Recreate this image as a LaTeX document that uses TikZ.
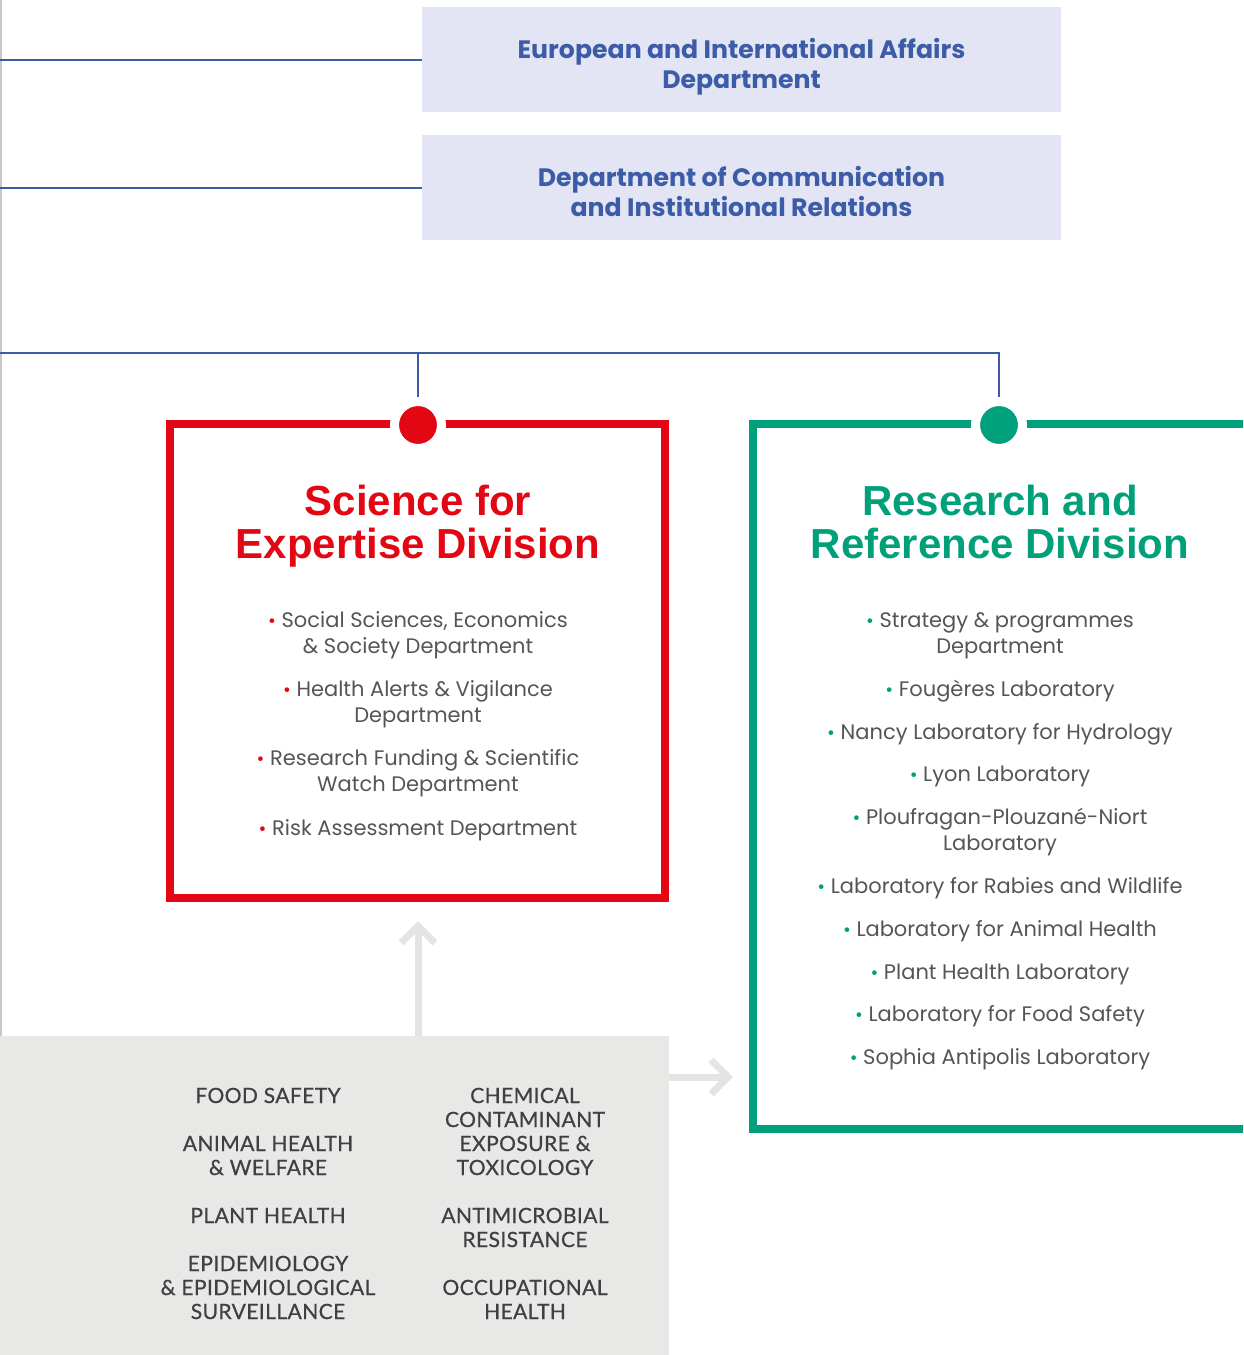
\documentclass[tikz,border=0pt]{standalone}
\usepackage{fontspec}
\setmainfont{Poppins}
\newfontfamily\headfont{Liberation Sans}
\newfontfamily\capsfont{Lato}[LetterSpace=2.0, FakeBold=0.6]
\usetikzlibrary{arrows.meta}
\definecolor{orgblue}{HTML}{3D5CA8}
\definecolor{deptfill}{HTML}{E3E5F4}
\definecolor{sfered}{HTML}{E30613}
\definecolor{rrdgreen}{HTML}{00A07A}
\definecolor{focusgray}{HTML}{E8E8E6}
\definecolor{arrowgray}{HTML}{E4E4E3}
\definecolor{itemgray}{HTML}{555555}
\definecolor{capsgray}{HTML}{404042}
\definecolor{edgegray}{HTML}{C8C8C8}
\newcommand{\bul}[1]{{\color{#1}\fontsize{9.5}{9.5}\selectfont\textbullet}~}
\tikzset{
  deptbox/.style={fill=deptfill, minimum width=319.5pt, minimum height=52.5pt, inner sep=0pt},
  depttext/.style={font=\bfseries\fontsize{12.6}{15}\selectfont, text=orgblue, align=center, anchor=base},
  orgline/.style={draw=orgblue, line width=1pt},
  divbox/.style={draw=#1, line width=4pt, inner sep=0pt},
  divdot/.style={circle, fill=#1, draw=white, line width=4.5pt, minimum size=23.5pt, inner sep=0pt},
  divtitle/.style={font=\headfont\bfseries\fontsize{21}{21.5}\selectfont, text=#1, align=center, anchor=base},
  divitem/.style={font=\fontsize{10.5}{13}\selectfont, text=itemgray, align=center, anchor=base},
  theme/.style={font=\capsfont\fontsize{10.5}{12}\selectfont, text=capsgray, align=center, anchor=base},
  focuslink/.style={draw=arrowgray, line width=3.5pt, -{Straight Barb[length=8.5pt, width=17pt]}},
}
\begin{document}
\begin{tikzpicture}[x=0.5pt, y=-0.5pt]
  \useasboundingbox (0,0) rectangle (1243,1355);
  \clip (0,0) rectangle (1243,1355);
  % page edge
  \draw[edgegray, line width=0.75pt] (0.75,0) -- (0.75,1355);
  % departments (text nodes sit on their last baseline)
  \node[deptbox] (eia) at (741.5,59.5) {};
  \node[deptbox] (dcir) at (741.5,187.5) {};
  \node[depttext] (eiatxt) at (741.5,88) {European and International Affairs\\Department};
  \node[depttext] (dcirtxt) at (741.5,216) {Department of Communication\\and Institutional Relations};
  \coordinate (hub) at (0,353);
  \draw[orgline] (eia.west -| hub) -- (eia.west);
  \draw[orgline] (dcir.west -| hub) -- (dcir.west);
  % divisions
  \node[divbox=sfered, minimum width=247.5pt, minimum height=237pt] (sfe) at (417.5,661) {};
  \node[divbox=rrdgreen, minimum width=273.75pt, minimum height=352.25pt] (rrd) at (1026.25,776.25) {};
  \node[divdot=sfered] (sfedot) at (418,425) {};
  \node[divdot=rrdgreen] (rrddot) at (999,425) {};
  \draw[orgline] (hub) -- (hub -| rrddot) -- (rrddot.north);
  \draw[orgline] (hub -| sfedot) -- (sfedot.north);
  \node[divtitle=sfered] (sfetitle) at (418,558) {Science for\\Expertise Division};
  \node[divtitle=rrdgreen] (rrdtitle) at (1000,558) {Research and\\Reference Division};
  % science for expertise
  \node[divitem] (s1) at (418,653) {\bul{sfered}Social Sciences, Economics\\\& Society Department};
  \node[divitem] (s2) at (418,722) {\bul{sfered}Health Alerts \& Vigilance\\Department};
  \node[divitem] (s3) at (418,791) {\bul{sfered}Research Funding \& Scientific\\Watch Department};
  \node[divitem] (s4) at (418,835) {\bul{sfered}Risk Assessment Department};
  % research and reference
  \node[divitem] (r1) at (1000,653) {\bul{rrdgreen}Strategy \& programmes\\Department};
  \node[divitem] (r2) at (1000,696) {\bul{rrdgreen}Fougères Laboratory};
  \node[divitem] (r3) at (1000,739) {\bul{rrdgreen}Nancy Laboratory for Hydrology};
  \node[divitem] (r4) at (1000,781) {\bul{rrdgreen}Lyon Laboratory};
  \node[divitem] (r5) at (1000,850) {\bul{rrdgreen}Ploufragan-Plouzané-Niort\\Laboratory};
  \node[divitem] (r6) at (1000,893) {\bul{rrdgreen}Laboratory for Rabies and Wildlife};
  \node[divitem] (r7) at (1000,936) {\bul{rrdgreen}Laboratory for Animal Health};
  \node[divitem] (r8) at (1000,979) {\bul{rrdgreen}Plant Health Laboratory};
  \node[divitem] (r9) at (1000,1021) {\bul{rrdgreen}Laboratory for Food Safety};
  \node[divitem] (r10) at (1000,1064) {\bul{rrdgreen}Sophia Antipolis Laboratory};
  % cross-cutting themes
  \node[fill=focusgray, minimum width=334.5pt, minimum height=167pt, inner sep=0pt] (focus) at (334.5,1203) {};
  \coordinate (uptip) at (418,921);
  \coordinate (rtip) at (733,1077);
  \draw[focuslink] (focus.north -| uptip) -- (uptip);
  \draw[focuslink] (focus.east |- rtip) -- (rtip);
  \node[theme] (t1) at (268,1103) {FOOD SAFETY};
  \node[theme] (t2) at (268,1175) {ANIMAL HEALTH\\\& WELFARE};
  \node[theme] (t3) at (268,1223) {PLANT HEALTH};
  \node[theme] (t4) at (268,1319) {EPIDEMIOLOGY\\\& EPIDEMIOLOGICAL\\SURVEILLANCE};
  \node[theme] (t5) at (525,1175) {CHEMICAL\\CONTAMINANT\\EXPOSURE \&\\TOXICOLOGY};
  \node[theme] (t6) at (525,1247) {ANTIMICROBIAL\\RESISTANCE};
  \node[theme] (t7) at (525,1319) {OCCUPATIONAL\\HEALTH};
\end{tikzpicture}
\end{document}
